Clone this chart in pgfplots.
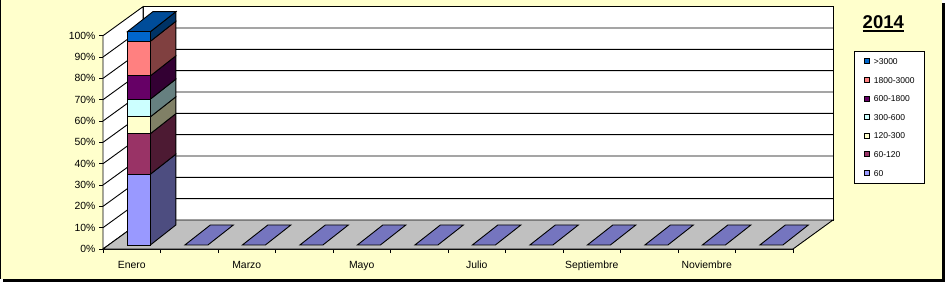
\documentclass[border=0pt]{standalone}
\usepackage{fontspec}
\setmainfont{Liberation Sans}
\usepackage{pgfplots}
\pgfplotsset{compat=1.18}
\definecolor{bgy}{HTML}{FFFFCC}
\definecolor{cA}{HTML}{9999FF}
\definecolor{cB}{HTML}{993366}
\definecolor{cC}{HTML}{FFFFCC}
\definecolor{cD}{HTML}{CCFFFF}
\definecolor{cE}{HTML}{660066}
\definecolor{cF}{HTML}{FF8080}
\definecolor{cG}{HTML}{0066CC}
\definecolor{sA}{HTML}{4D4D80}
\definecolor{sB}{HTML}{4D1A33}
\definecolor{sC}{HTML}{808066}
\definecolor{sD}{HTML}{668080}
\definecolor{sE}{HTML}{330033}
\definecolor{sF}{HTML}{804040}
\definecolor{sG}{HTML}{003366}
\definecolor{tG}{HTML}{004C99}
\definecolor{floorc}{HTML}{C0C0C0}
\definecolor{floorbar}{HTML}{7575BF}
\pgfplotsset{
  common/.style={
    at={(103pt,33pt)}, anchor=south west,
    scale only axis, width=690pt, height=213.3pt,
    xmin=0.5, xmax=12.5, ymin=0, ymax=100, clip=false,
  },
  legsq/.style={legend image code/.code={\draw[##1, draw=black, line width=0.9pt] (0pt,-2.5pt) rectangle (5pt,2.5pt);}},
}
\begin{document}
\begin{tikzpicture}
\useasboundingbox (0,0) rectangle (945pt,282pt);
\fill[black] (3pt,0pt) rectangle (945pt,279pt);
\fill[bgy] (0pt,3.3pt) rectangle (942.3pt,283pt);
\fill[black] (0pt,3.3pt) rectangle (1pt,283pt);
% ---------- axis A: walls, floor, gridlines, side faces ----------
\begin{axis}[common,
  no markers,
  axis x line*=bottom, axis y line*=left,
  axis line style={line width=0.9pt, -},
  tick align=outside,
  major tick length=4pt, minor tick length=4pt,
  tick style={black, line width=0.9pt},
  xtick={1,3,5,7,9,11},
  xticklabels={Enero,Marzo,Mayo,Julio,Septiembre,Noviembre},
  major x tick style={draw=none},
  minor xtick={0.5,1.5,...,12.5},
  ytick={0,10,...,100},
  yticklabel={\pgfmathprintnumber{\tick}\%},
  /pgf/number format/assume math mode=true,
  ticklabel style={font=\fontsize{10.4}{12}\selectfont},
  xticklabel style={yshift=-4.5pt},
]
% back wall
\filldraw[white, draw=black, line width=0.9pt] (axis cs:1.1957,13.6) rectangle (axis cs:13.1957,113.6);
% side wall
\filldraw[white, draw=black, line width=0.9pt] (axis cs:0.5,0) -- (axis cs:1.1957,13.6) -- (axis cs:1.1957,113.6) -- (axis cs:0.5,100) -- cycle;
% gridlines
\draw[black, line width=0.9pt] (axis cs:0.5,10) -- (axis cs:1.1957,23.6) -- (axis cs:13.1957,23.6);
\draw[black, line width=0.9pt] (axis cs:0.5,20) -- (axis cs:1.1957,33.6) -- (axis cs:13.1957,33.6);
\draw[black, line width=0.9pt] (axis cs:0.5,30) -- (axis cs:1.1957,43.6) -- (axis cs:13.1957,43.6);
\draw[black, line width=0.9pt] (axis cs:0.5,40) -- (axis cs:1.1957,53.6) -- (axis cs:13.1957,53.6);
\draw[black, line width=0.9pt] (axis cs:0.5,50) -- (axis cs:1.1957,63.6) -- (axis cs:13.1957,63.6);
\draw[black, line width=0.9pt] (axis cs:0.5,60) -- (axis cs:1.1957,73.6) -- (axis cs:13.1957,73.6);
\draw[black, line width=0.9pt] (axis cs:0.5,70) -- (axis cs:1.1957,83.6) -- (axis cs:13.1957,83.6);
\draw[black, line width=0.9pt] (axis cs:0.5,80) -- (axis cs:1.1957,93.6) -- (axis cs:13.1957,93.6);
\draw[black, line width=0.9pt] (axis cs:0.5,90) -- (axis cs:1.1957,103.6) -- (axis cs:13.1957,103.6);
% floor
\filldraw[floorc, draw=black, line width=0.9pt] (axis cs:0.5,0) -- (axis cs:12.5,0) -- (axis cs:13.1957,13.6) -- (axis cs:1.1957,13.6) -- cycle;
% empty months (value 0): flat bars on the floor
\addplot[fill=floorbar, draw=black, line width=0.9pt] coordinates {(1.925,1.9) (2.325,1.9) (2.768,11.275) (2.368,11.275)} -- cycle;
\addplot[fill=floorbar, draw=black, line width=0.9pt] coordinates {(2.925,1.9) (3.325,1.9) (3.768,11.275) (3.368,11.275)} -- cycle;
\addplot[fill=floorbar, draw=black, line width=0.9pt] coordinates {(3.925,1.9) (4.325,1.9) (4.768,11.275) (4.368,11.275)} -- cycle;
\addplot[fill=floorbar, draw=black, line width=0.9pt] coordinates {(4.925,1.9) (5.325,1.9) (5.768,11.275) (5.368,11.275)} -- cycle;
\addplot[fill=floorbar, draw=black, line width=0.9pt] coordinates {(5.925,1.9) (6.325,1.9) (6.768,11.275) (6.368,11.275)} -- cycle;
\addplot[fill=floorbar, draw=black, line width=0.9pt] coordinates {(6.925,1.9) (7.325,1.9) (7.768,11.275) (7.368,11.275)} -- cycle;
\addplot[fill=floorbar, draw=black, line width=0.9pt] coordinates {(7.925,1.9) (8.325,1.9) (8.768,11.275) (8.368,11.275)} -- cycle;
\addplot[fill=floorbar, draw=black, line width=0.9pt] coordinates {(8.925,1.9) (9.325,1.9) (9.768,11.275) (9.368,11.275)} -- cycle;
\addplot[fill=floorbar, draw=black, line width=0.9pt] coordinates {(9.925,1.9) (10.325,1.9) (10.768,11.275) (10.368,11.275)} -- cycle;
\addplot[fill=floorbar, draw=black, line width=0.9pt] coordinates {(10.925,1.9) (11.325,1.9) (11.768,11.275) (11.368,11.275)} -- cycle;
\addplot[fill=floorbar, draw=black, line width=0.9pt] coordinates {(11.925,1.9) (12.325,1.9) (12.768,11.275) (12.368,11.275)} -- cycle;
% side faces of the January bar (cumulative: 1.9 35.1 54.1 62.0 70.3 81.2 97.4 101.9)
\addplot[fill=sA, draw=black, line width=0.9pt] coordinates {(1.325,1.9) (1.768,11.275) (1.768,44.475) (1.325,35.1)} -- cycle;
\addplot[fill=sB, draw=black, line width=0.9pt] coordinates {(1.325,35.1) (1.768,44.475) (1.768,63.475) (1.325,54.1)} -- cycle;
\addplot[fill=sC, draw=black, line width=0.9pt] coordinates {(1.325,54.1) (1.768,63.475) (1.768,71.375) (1.325,62.0)} -- cycle;
\addplot[fill=sD, draw=black, line width=0.9pt] coordinates {(1.325,62.0) (1.768,71.375) (1.768,79.675) (1.325,70.3)} -- cycle;
\addplot[fill=sE, draw=black, line width=0.9pt] coordinates {(1.325,70.3) (1.768,79.675) (1.768,90.575) (1.325,81.2)} -- cycle;
\addplot[fill=sF, draw=black, line width=0.9pt] coordinates {(1.325,81.2) (1.768,90.575) (1.768,106.775) (1.325,97.4)} -- cycle;
\addplot[fill=sG, draw=black, line width=0.9pt] coordinates {(1.325,97.4) (1.768,106.775) (1.768,111.275) (1.325,101.9)} -- cycle;
% top face
\addplot[fill=tG, draw=black, line width=0.9pt] coordinates {(0.925,101.9) (1.325,101.9) (1.768,111.275) (1.368,111.275)} -- cycle;
\end{axis}
% ---------- axis B: front faces (stacked bars) and legend ----------
\begin{axis}[common,
  axis lines=none, xtick=\empty, ytick=\empty,
  ybar stacked, bar width=0.4,
  reverse legend,
  legend cell align=left,
  legend style={at={(1.0884,0.9283)}, anchor=north west,
    draw=black, line width=0.9pt, fill=white,
    font=\fontsize{8.5}{9}\selectfont,
    inner xsep=10pt, inner ysep=7pt, row sep=12.6pt,
    nodes={inner sep=0pt, text height=6pt, text depth=0pt},
    /tikz/every odd column/.append style={column sep=3.5pt}},
]
\addplot[draw=none, fill=none, forget plot] coordinates {(1.125,1.9)};
\addplot[fill=cA, draw=black, line width=0.9pt, legsq] coordinates {(1.125,33.2)};
\addlegendentry{60}
\addplot[fill=cB, draw=black, line width=0.9pt, legsq] coordinates {(1.125,19.0)};
\addlegendentry{60-120}
\addplot[fill=cC, draw=black, line width=0.9pt, legsq] coordinates {(1.125,7.9)};
\addlegendentry{120-300}
\addplot[fill=cD, draw=black, line width=0.9pt, legsq] coordinates {(1.125,8.3)};
\addlegendentry{300-600}
\addplot[fill=cE, draw=black, line width=0.9pt, legsq] coordinates {(1.125,10.9)};
\addlegendentry{600-1800}
\addplot[fill=cF, draw=black, line width=0.9pt, legsq] coordinates {(1.125,16.2)};
\addlegendentry{1800-3000}
\addplot[fill=cG, draw=black, line width=0.9pt, legsq] coordinates {(1.125,4.5)};
\addlegendentry{>3000}
\end{axis}
% title
\node[font=\fontsize{18.5}{20}\bfseries, inner sep=0pt] at (883.3pt,260.3pt) {2014};
\draw[black, line width=2pt] (862.7pt,251pt) -- (904pt,251pt);
\end{tikzpicture}
\end{document}
